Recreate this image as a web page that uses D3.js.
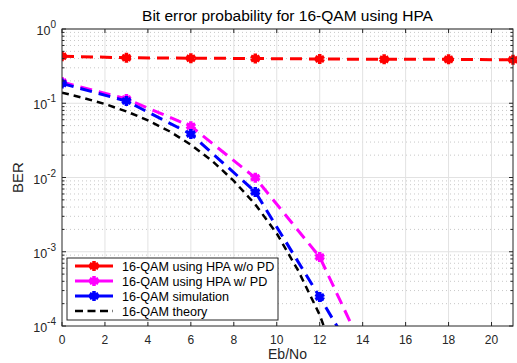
<!DOCTYPE html>
<html><head><meta charset="utf-8">
<script src="https://cdn.jsdelivr.net/npm/d3@7"></script>
<style>body{margin:0;background:#fff;} text{font-family:"Liberation Sans",Arial,sans-serif;}</style>
</head><body><svg id="c" width="517" height="363"></svg>
<script>
const title = "Bit error probability for 16-QAM using HPA";
const xLabel = "Eb/No", yLabel = "BER";
const xTicks = [0,2,4,6,8,10,12,14,16,18,20];
const yTickExps = [0,-1,-2,-3,-4];
const xMarked = [0,3,6,9,12,15,18,21];
const berNoPD = [0.43,0.41,0.405,0.40,0.395,0.39,0.39,0.385];
const xSim = [0,3,6,9,12,15];
const berPD = [0.193,0.114,0.049,0.0099,0.00085,0.000012];
const berSim = [0.185,0.107,0.0385,0.0064,0.000245,0.0000085];
const xTheory = [0,1,2,3,4,5,6,7,8,9,10,11,12,13,14];
const berTheory = [0.139,0.118,0.0976,0.0776,0.0589,0.0420,0.0276,0.0167,0.0090,0.00434,0.00176,0.000556,0.000141,0.000023,0.0000028];
const legendLabels = ["16-QAM using HPA w/o PD","16-QAM using HPA w/ PD","16-QAM simulation","16-QAM theory"];

const W=517,H=363,m={l:62,t:29,r:4,b:37};
const svg=d3.select("#c");
const x=d3.scaleLinear().domain([0,21]).range([m.l,W-m.r]);
const y=d3.scaleLog().domain([1e-4,1]).range([H-m.b,m.t]);
const x0=m.l,x1=W-m.r,y0=H-m.b,y1=m.t;

// minor grid (dotted horizontal)
const minors=[];
for(let e=-4;e<0;e++) for(let k=2;k<=9;k++) minors.push(k*Math.pow(10,e));
svg.append("g").selectAll("line").data(minors).join("line")
  .attr("x1",x0).attr("x2",x1).attr("y1",d=>y(d)).attr("y2",d=>y(d))
  .attr("stroke","#c8c8c8").attr("stroke-width",1).attr("stroke-dasharray","1,3");
// major grid
svg.append("g").selectAll("line").data(xTicks.slice(1)).join("line")
  .attr("x1",d=>x(d)).attr("x2",d=>x(d)).attr("y1",y0).attr("y2",y1)
  .attr("stroke","#e2e2e2").attr("stroke-width",1);
svg.append("g").selectAll("line").data(yTickExps.slice(0,-1)).join("line")
  .attr("x1",x0).attr("x2",x1).attr("y1",d=>y(Math.pow(10,d))).attr("y2",d=>y(Math.pow(10,d)))
  .attr("stroke","#e2e2e2").attr("stroke-width",1);

// series
svg.append("clipPath").attr("id","pc").append("rect").attr("x",x0).attr("y",y1-8).attr("width",x1-x0+6).attr("height",y0-y1+8);
const plot=svg.append("g").attr("clip-path","url(#pc)");
const line=d3.line().x(d=>x(d[0])).y(d=>y(d[1]));
function series(xs,ys,color,w,dash,marker){
  const pts=xs.map((v,i)=>[v,ys[i]]);
  plot.append("path").attr("d",line(pts)).attr("fill","none").attr("stroke",color)
    .attr("stroke-width",w).attr("stroke-dasharray",dash);
  if(marker){
    plot.append("g").selectAll("path").data(pts.filter(p=>p[1]>=1e-4)).join("path")
      .attr("transform",p=>`translate(${x(p[0])},${y(p[1])})`)
      .attr("d",d3.symbol(d3.symbolAsterisk,70)).attr("stroke",color).attr("stroke-width",3.5).attr("fill","none");
    plot.append("g").selectAll("circle").data(pts.filter(p=>p[1]>=1e-4)).join("circle")
      .attr("cx",p=>x(p[0])).attr("cy",p=>y(p[1])).attr("r",3.5).attr("fill",color);
  }
}
series(xTheory,berTheory,"#000",2.5,"7,5",false);
series(xSim,berPD,"#ff00ff",3,"12,7",true);
series(xSim,berSim,"#0000ff",3,"12,7",true);
series(xMarked,berNoPD,"#ff0000",3,"12,7",true);

// axes box and ticks
const ax=svg.append("g");
ax.append("rect").attr("x",x0).attr("y",y1).attr("width",x1-x0).attr("height",y0-y1)
  .attr("fill","none").attr("stroke","#262626").attr("stroke-width",1);
xTicks.forEach(t=>{
  ax.append("line").attr("x1",x(t)).attr("x2",x(t)).attr("y1",y0).attr("y2",y0-4).attr("stroke","#262626");
  ax.append("line").attr("x1",x(t)).attr("x2",x(t)).attr("y1",y1).attr("y2",y1+4).attr("stroke","#262626");
  ax.append("text").attr("x",x(t)).attr("y",y0+18).attr("text-anchor","middle").attr("font-size",12).attr("fill","#262626").text(t);
});
minors.forEach(v=>{
  ax.append("line").attr("x1",x0).attr("x2",x0+2.5).attr("y1",y(v)).attr("y2",y(v)).attr("stroke","#262626");
  ax.append("line").attr("x1",x1).attr("x2",x1-2.5).attr("y1",y(v)).attr("y2",y(v)).attr("stroke","#262626");
});
yTickExps.forEach(e=>{
  const yy=y(Math.pow(10,e));
  ax.append("line").attr("x1",x0).attr("x2",x0+4).attr("y1",yy).attr("y2",yy).attr("stroke","#262626");
  ax.append("line").attr("x1",x1).attr("x2",x1-4).attr("y1",yy).attr("y2",yy).attr("stroke","#262626");
  const t=ax.append("text").attr("x",x0-6).attr("y",yy+6).attr("text-anchor","end").attr("font-size",12.5).attr("fill","#262626");
  t.append("tspan").text("10");
  t.append("tspan").attr("dy",-7).attr("font-size",10).text(e);
});

svg.append("text").attr("x",(x0+x1)/2).attr("y",21).attr("text-anchor","middle").attr("font-size",15.5).attr("fill","#000").text(title);
svg.append("text").attr("x",(x0+x1)/2).attr("y",359).attr("text-anchor","middle").attr("font-size",14).attr("fill","#262626").text(xLabel);
svg.append("text").attr("transform",`translate(23,${(y0+y1)/2}) rotate(-90)`).attr("text-anchor","middle").attr("font-size",15).attr("fill","#262626").text(yLabel);

// legend
const lg=svg.append("g");
lg.append("rect").attr("x",67).attr("y",258).attr("width",211).attr("height",62).attr("fill","#fff").attr("stroke","#262626").attr("stroke-width",1);
const lcol=["#ff0000","#ff00ff","#0000ff","#000"];
legendLabels.forEach((s,i)=>{
  const ly=266+i*15;
  lg.append("line").attr("x1",75).attr("x2",113).attr("y1",ly).attr("y2",ly).attr("stroke",lcol[i]).attr("stroke-width",i<3?3:2.5).attr("stroke-dasharray",i<3?null:"8,4.5");
  if(i<3){
    lg.append("path").attr("transform",`translate(94,${ly})`).attr("d",d3.symbol(d3.symbolAsterisk,70)).attr("stroke",lcol[i]).attr("stroke-width",3.5).attr("fill","none");
    lg.append("circle").attr("cx",94).attr("cy",ly).attr("r",3.5).attr("fill",lcol[i]);
  }
  lg.append("text").attr("x",122).attr("y",ly+4.5).attr("font-size",12.6).attr("fill","#000").text(s);
});
</script></body></html>
